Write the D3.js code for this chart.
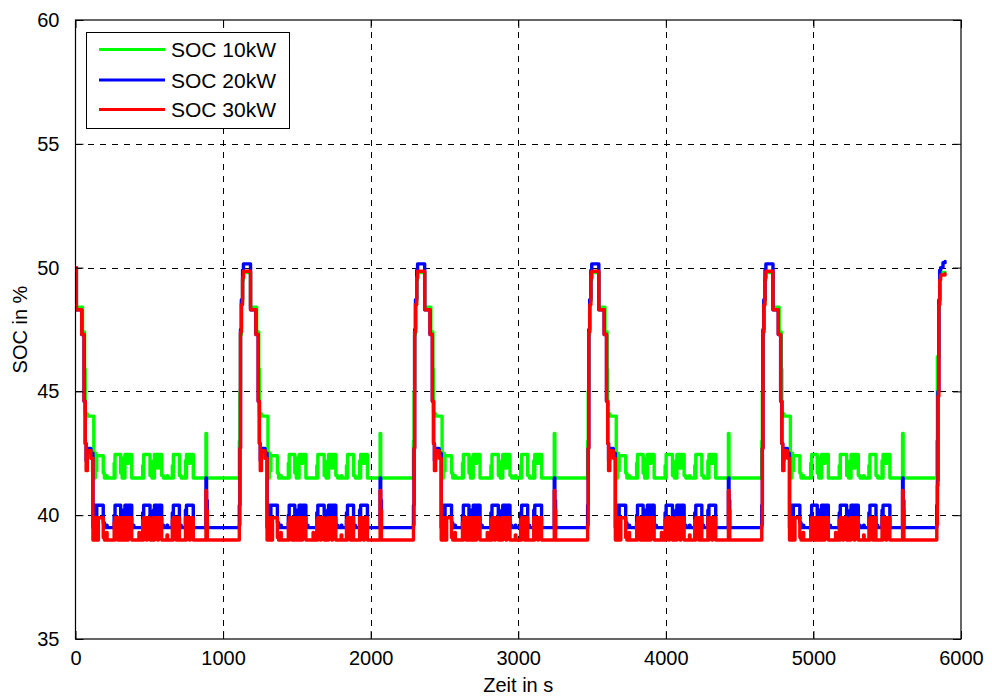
<!DOCTYPE html>
<html>
<head>
<meta charset="utf-8">
<script src="https://cdn.jsdelivr.net/npm/d3@7"></script>
<style>
  html, body { margin: 0; padding: 0; background: #fff; }
  svg { display: block; font-family: "Liberation Sans", Arial, Helvetica, sans-serif; }
</style>
</head>
<body>
<svg id="chart" width="992" height="697"></svg>
<script>
// Simulation time in seconds (breakpoints of the step-wise SOC traces)
const timeS = [
  0,6,42,48,58,62,66,72,80,104,118,124,128,134,139,144,150,155,188,196,210,214,262,265,268,286,290,306,316,322,326,335,352,358,381,395,430,434,455,459,462,480,485,505,518,528,531,535,556,562,584,596,620,624,656,659,663,682,687,704,716,745,748,752,772,777,798,884,888,893,1110,1114,1118,1124,1132,1138,
  1180,1186,1222,1228,1238,1242,1246,1252,1260,1284,1298,1304,1308,1314,1319,1324,1330,1335,1368,1376,1390,1394,1442,1445,1448,1466,1470,1486,1496,1502,1506,1515,1532,1538,1561,1575,1610,1614,1635,1639,1642,1660,1665,1685,1698,1708,1711,1715,1736,1742,1764,1776,1800,1804,1836,1839,1843,1862,1867,1884,1896,1925,1928,1932,1952,1957,1978,2064,2068,2073,2290,2294,2298,2304,2312,2318,
  2360,2366,2402,2408,2418,2422,2426,2432,2440,2464,2478,2484,2488,2494,2499,2504,2510,2515,2548,2556,2570,2574,2622,2625,2628,2646,2650,2666,2676,2682,2686,2695,2712,2718,2741,2755,2790,2794,2815,2819,2822,2840,2845,2865,2878,2888,2891,2895,2916,2922,2944,2956,2980,2984,3016,3019,3023,3042,3047,3064,3076,3105,3108,3112,3132,3137,3158,3244,3248,3253,3470,3474,3478,3484,3492,3498,
  3540,3546,3582,3588,3598,3602,3606,3612,3620,3644,3658,3664,3668,3674,3679,3684,3690,3695,3728,3736,3750,3754,3802,3805,3808,3826,3830,3846,3856,3862,3866,3875,3892,3898,3921,3935,3970,3974,3995,3999,4002,4020,4025,4045,4058,4068,4071,4075,4096,4102,4124,4136,4160,4164,4196,4199,4203,4222,4227,4244,4256,4285,4288,4292,4312,4317,4338,4424,4428,4433,4650,4654,4658,4664,4672,4678,
  4720,4726,4762,4768,4778,4782,4786,4792,4800,4824,4838,4844,4848,4854,4859,4864,4870,4875,4908,4916,4930,4934,4982,4985,4988,5006,5010,5026,5036,5042,5046,5055,5072,5078,5101,5115,5150,5154,5175,5179,5182,5200,5205,5225,5238,5248,5251,5255,5276,5282,5304,5316,5340,5344,5376,5379,5383,5402,5407,5424,5436,5465,5468,5472,5492,5497,5518,5604,5608,5613,5836,5840,5844,5850,5856,5862,5878,5892
];

// State of charge in % at 10 kW
const soc10kW = [
  50.0,48.4,48.4,47.4,47.4,45.9,44.1,44.1,44.0,44.0,44.0,42.4,41.5,42.5,41.8,42.4,42.4,42.4,41.7,41.5,41.6,41.5,42.1,41.5,42.45,42.45,42.45,41.7,41.5,42.3,41.5,42.45,42.1,42.45,41.5,41.5,41.5,41.5,42.0,41.5,42.45,42.45,42.45,41.6,41.5,42.2,41.5,42.45,41.9,42.45,41.6,41.5,41.6,41.5,42.0,41.5,42.45,42.45,42.45,41.6,41.5,42.2,41.5,42.45,42.1,42.45,41.5,43.3,41.5,41.5,43.0,45.0,47.3,48.6,49.5,49.8,
  49.8,48.4,48.4,47.4,47.4,45.9,44.1,44.1,44.0,44.0,44.0,42.4,41.5,42.5,41.8,42.4,42.4,42.4,41.7,41.5,41.6,41.5,42.1,41.5,42.45,42.45,42.45,41.7,41.5,42.3,41.5,42.45,42.1,42.45,41.5,41.5,41.5,41.5,42.0,41.5,42.45,42.45,42.45,41.6,41.5,42.2,41.5,42.45,41.9,42.45,41.6,41.5,41.6,41.5,42.0,41.5,42.45,42.45,42.45,41.6,41.5,42.2,41.5,42.45,42.1,42.45,41.5,43.3,41.5,41.5,43.0,45.0,47.3,48.6,49.5,49.8,
  49.8,48.4,48.4,47.4,47.4,45.9,44.1,44.1,44.0,44.0,44.0,42.4,41.5,42.5,41.8,42.4,42.4,42.4,41.7,41.5,41.6,41.5,42.1,41.5,42.45,42.45,42.45,41.7,41.5,42.3,41.5,42.45,42.1,42.45,41.5,41.5,41.5,41.5,42.0,41.5,42.45,42.45,42.45,41.6,41.5,42.2,41.5,42.45,41.9,42.45,41.6,41.5,41.6,41.5,42.0,41.5,42.45,42.45,42.45,41.6,41.5,42.2,41.5,42.45,42.1,42.45,41.5,43.3,41.5,41.5,43.0,45.0,47.3,48.6,49.5,49.8,
  49.8,48.4,48.4,47.4,47.4,45.9,44.1,44.1,44.0,44.0,44.0,42.4,41.5,42.5,41.8,42.4,42.4,42.4,41.7,41.5,41.6,41.5,42.1,41.5,42.45,42.45,42.45,41.7,41.5,42.3,41.5,42.45,42.1,42.45,41.5,41.5,41.5,41.5,42.0,41.5,42.45,42.45,42.45,41.6,41.5,42.2,41.5,42.45,41.9,42.45,41.6,41.5,41.6,41.5,42.0,41.5,42.45,42.45,42.45,41.6,41.5,42.2,41.5,42.45,42.1,42.45,41.5,43.3,41.5,41.5,43.0,45.0,47.3,48.6,49.5,49.8,
  49.8,48.4,48.4,47.4,47.4,45.9,44.1,44.1,44.0,44.0,44.0,42.4,41.5,42.5,41.8,42.4,42.4,42.4,41.7,41.5,41.6,41.5,42.1,41.5,42.45,42.45,42.45,41.7,41.5,42.3,41.5,42.45,42.1,42.45,41.5,41.5,41.5,41.5,42.0,41.5,42.45,42.45,42.45,41.6,41.5,42.2,41.5,42.45,41.9,42.45,41.6,41.5,41.6,41.5,42.0,41.5,42.45,42.45,42.45,41.6,41.5,42.2,41.5,42.45,42.1,42.45,41.5,43.3,41.5,41.5,43.0,46.4,46.4,48.6,49.6,49.8,49.8,49.8
];

// State of charge in % at 20 kW
const soc20kW = [
  50.0,48.3,47.3,47.3,44.6,44.6,42.9,42.2,42.7,42.5,39.5,39.5,39.5,40.4,39.6,40.4,40.4,40.4,39.7,39.5,39.6,39.5,40.0,39.5,40.4,40.4,40.4,39.65,39.5,40.2,39.5,40.4,40.0,40.4,39.6,39.5,39.5,39.5,40.1,39.5,40.4,40.4,40.4,39.6,39.5,40.2,39.5,40.4,39.8,40.4,39.6,39.5,39.6,39.5,40.1,39.5,40.4,40.4,40.4,39.6,39.5,40.2,39.5,40.4,40.4,40.4,39.5,41.5,40.6,39.5,40.4,42.7,47.5,48.7,49.9,50.15,
  50.15,48.3,47.3,47.3,44.6,44.6,42.9,42.2,42.7,42.5,39.5,39.5,39.5,40.4,39.6,40.4,40.4,40.4,39.7,39.5,39.6,39.5,40.0,39.5,40.4,40.4,40.4,39.65,39.5,40.2,39.5,40.4,40.0,40.4,39.6,39.5,39.5,39.5,40.1,39.5,40.4,40.4,40.4,39.6,39.5,40.2,39.5,40.4,39.8,40.4,39.6,39.5,39.6,39.5,40.1,39.5,40.4,40.4,40.4,39.6,39.5,40.2,39.5,40.4,40.4,40.4,39.5,41.5,40.6,39.5,40.4,42.7,47.5,48.7,49.9,50.15,
  50.15,48.3,47.3,47.3,44.6,44.6,42.9,42.2,42.7,42.5,39.5,39.5,39.5,40.4,39.6,40.4,40.4,40.4,39.7,39.5,39.6,39.5,40.0,39.5,40.4,40.4,40.4,39.65,39.5,40.2,39.5,40.4,40.0,40.4,39.6,39.5,39.5,39.5,40.1,39.5,40.4,40.4,40.4,39.6,39.5,40.2,39.5,40.4,39.8,40.4,39.6,39.5,39.6,39.5,40.1,39.5,40.4,40.4,40.4,39.6,39.5,40.2,39.5,40.4,40.4,40.4,39.5,41.5,40.6,39.5,40.4,42.7,47.5,48.7,49.9,50.15,
  50.15,48.3,47.3,47.3,44.6,44.6,42.9,42.2,42.7,42.5,39.5,39.5,39.5,40.4,39.6,40.4,40.4,40.4,39.7,39.5,39.6,39.5,40.0,39.5,40.4,40.4,40.4,39.65,39.5,40.2,39.5,40.4,40.0,40.4,39.6,39.5,39.5,39.5,40.1,39.5,40.4,40.4,40.4,39.6,39.5,40.2,39.5,40.4,39.8,40.4,39.6,39.5,39.6,39.5,40.1,39.5,40.4,40.4,40.4,39.6,39.5,40.2,39.5,40.4,40.4,40.4,39.5,41.5,40.6,39.5,40.4,42.7,47.5,48.7,49.9,50.15,
  50.15,48.3,47.3,47.3,44.6,44.6,42.9,42.2,42.7,42.5,39.5,39.5,39.5,40.4,39.6,40.4,40.4,40.4,39.7,39.5,39.6,39.5,40.0,39.5,40.4,40.4,40.4,39.65,39.5,40.2,39.5,40.4,40.0,40.4,39.6,39.5,39.5,39.5,40.1,39.5,40.4,40.4,40.4,39.6,39.5,40.2,39.5,40.4,39.8,40.4,39.6,39.5,39.6,39.5,40.1,39.5,40.4,40.4,40.4,39.6,39.5,40.2,39.5,40.4,40.4,40.4,39.5,41.5,40.6,39.5,40.4,41.4,45.0,48.7,49.9,50.0,50.2,50.25
];

// State of charge in % at 30 kW
const soc30kW = [
  50.0,48.3,47.3,47.3,44.6,44.6,42.9,41.8,42.6,42.3,39.0,39.0,39.0,39.9,39.0,39.9,39.0,39.9,39.1,39.0,39.3,39.0,39.7,39.0,39.9,39.0,39.9,39.0,39.0,39.9,39.0,39.9,39.0,39.9,39.0,39.0,39.3,39.0,39.8,39.0,39.9,39.0,39.9,39.0,39.0,39.9,39.0,39.9,39.0,39.9,39.0,39.0,39.2,39.0,39.8,39.0,39.9,39.0,39.9,39.0,39.0,39.9,39.0,39.9,39.0,39.9,39.0,41.0,40.2,39.0,39.6,42.7,47.4,48.5,49.6,49.85,
  49.85,48.3,47.3,47.3,44.6,44.6,42.9,41.8,42.6,42.3,39.0,39.0,39.0,39.9,39.0,39.9,39.0,39.9,39.1,39.0,39.3,39.0,39.7,39.0,39.9,39.0,39.9,39.0,39.0,39.9,39.0,39.9,39.0,39.9,39.0,39.0,39.3,39.0,39.8,39.0,39.9,39.0,39.9,39.0,39.0,39.9,39.0,39.9,39.0,39.9,39.0,39.0,39.2,39.0,39.8,39.0,39.9,39.0,39.9,39.0,39.0,39.9,39.0,39.9,39.0,39.9,39.0,41.0,40.2,39.0,39.6,42.7,47.4,48.5,49.6,49.85,
  49.85,48.3,47.3,47.3,44.6,44.6,42.9,41.8,42.6,42.3,39.0,39.0,39.0,39.9,39.0,39.9,39.0,39.9,39.1,39.0,39.3,39.0,39.7,39.0,39.9,39.0,39.9,39.0,39.0,39.9,39.0,39.9,39.0,39.9,39.0,39.0,39.3,39.0,39.8,39.0,39.9,39.0,39.9,39.0,39.0,39.9,39.0,39.9,39.0,39.9,39.0,39.0,39.2,39.0,39.8,39.0,39.9,39.0,39.9,39.0,39.0,39.9,39.0,39.9,39.0,39.9,39.0,41.0,40.2,39.0,39.6,42.7,47.4,48.5,49.6,49.85,
  49.85,48.3,47.3,47.3,44.6,44.6,42.9,41.8,42.6,42.3,39.0,39.0,39.0,39.9,39.0,39.9,39.0,39.9,39.1,39.0,39.3,39.0,39.7,39.0,39.9,39.0,39.9,39.0,39.0,39.9,39.0,39.9,39.0,39.9,39.0,39.0,39.3,39.0,39.8,39.0,39.9,39.0,39.9,39.0,39.0,39.9,39.0,39.9,39.0,39.9,39.0,39.0,39.2,39.0,39.8,39.0,39.9,39.0,39.9,39.0,39.0,39.9,39.0,39.9,39.0,39.9,39.0,41.0,40.2,39.0,39.6,42.7,47.4,48.5,49.6,49.85,
  49.85,48.3,47.3,47.3,44.6,44.6,42.9,41.8,42.6,42.3,39.0,39.0,39.0,39.9,39.0,39.9,39.0,39.9,39.1,39.0,39.3,39.0,39.7,39.0,39.9,39.0,39.9,39.0,39.0,39.9,39.0,39.9,39.0,39.9,39.0,39.0,39.3,39.0,39.8,39.0,39.9,39.0,39.9,39.0,39.0,39.9,39.0,39.9,39.0,39.9,39.0,39.0,39.2,39.0,39.8,39.0,39.9,39.0,39.9,39.0,39.0,39.9,39.0,39.9,39.0,39.9,39.0,41.0,40.2,39.0,39.6,41.2,44.8,48.5,49.5,49.7,49.7,49.75
];

const seriesNames = ["SOC 10kW", "SOC 20kW", "SOC 30kW"];
const seriesColors = ["#00ff00", "#0000ff", "#ff0000"];
const xTicks = [0, 1000, 2000, 3000, 4000, 5000, 6000];
const yTicks = [35, 40, 45, 50, 55, 60];
const xLabel = "Zeit in s";
const yLabel = "SOC in %";

const svg = d3.select("#chart");
const plot = { left: 75.5, top: 20, right: 961, bottom: 639 };

const x = d3.scaleLinear().domain([0, 6000]).range([plot.left, plot.right]);
const y = d3.scaleLinear().domain([35, 60]).range([plot.bottom, plot.top]);

// white plot background
svg.append("rect")
  .attr("x", plot.left).attr("y", plot.top)
  .attr("width", plot.right - plot.left).attr("height", plot.bottom - plot.top)
  .attr("fill", "#fff");

// dashed grid
const grid = svg.append("g").attr("stroke", "#000").attr("stroke-width", 1)
  .attr("stroke-dasharray", "6,6").attr("shape-rendering", "crispEdges");
grid.selectAll(".gx").data(xTicks.slice(1, -1)).join("line")
  .attr("x1", d => Math.round(x(d)) + 0.5).attr("x2", d => Math.round(x(d)) + 0.5)
  .attr("y1", plot.top).attr("y2", plot.bottom);
grid.selectAll(".gy").data(yTicks.slice(1, -1)).join("line")
  .attr("y1", d => Math.round(y(d)) + 0.5).attr("y2", d => Math.round(y(d)) + 0.5)
  .attr("x1", plot.left).attr("x2", plot.right);

// SOC traces
svg.append("defs").append("clipPath").attr("id", "clip")
  .append("rect").attr("x", plot.left).attr("y", plot.top)
  .attr("width", plot.right - plot.left).attr("height", plot.bottom - plot.top);

const seriesValues = [soc10kW, soc20kW, soc30kW];
const line = d3.line()
  .x(d => x(d[0]))
  .y(d => y(d[1]))
  .curve(d3.curveStepAfter);

const traces = svg.append("g").attr("clip-path", "url(#clip)");
seriesValues.forEach((vals, i) => {
  const pts = timeS.map((t, k) => [t, vals[k]]);
  traces.append("path")
    .attr("d", line(pts))
    .attr("fill", "none")
    .attr("stroke", seriesColors[i])
    .attr("stroke-width", 3.4)
    .attr("stroke-linejoin", "round")
    .attr("stroke-linecap", "round");
});

// axes with inward ticks on all four sides
const tickLen = 8;
const fmt = d3.format("d");
const xAxisB = d3.axisBottom(x).tickValues(xTicks).tickFormat(fmt).tickSizeInner(-tickLen).tickSizeOuter(0).tickPadding(tickLen + 4);
const xAxisT = d3.axisTop(x).tickValues(xTicks).tickSizeInner(-tickLen).tickSizeOuter(0).tickFormat("");
const yAxisL = d3.axisLeft(y).tickValues(yTicks).tickFormat(fmt).tickSizeInner(-tickLen).tickSizeOuter(0).tickPadding(tickLen + 8);
const yAxisR = d3.axisRight(y).tickValues(yTicks).tickSizeInner(-tickLen).tickSizeOuter(0).tickFormat("");

function styleAxis(g) {
  g.select(".domain").remove();
  g.selectAll("line").attr("stroke", "#000").attr("stroke-width", 1);
  g.selectAll("text").attr("fill", "#000").style("font-size", "20px")
    .style("font-family", "'Liberation Sans', Arial, Helvetica, sans-serif");
}
svg.append("g").attr("transform", `translate(0,${plot.bottom})`).call(xAxisB).call(styleAxis);
svg.append("g").attr("transform", `translate(0,${plot.top})`).call(xAxisT).call(styleAxis);
svg.append("g").attr("transform", `translate(${plot.left},0)`).call(yAxisL).call(styleAxis);
svg.append("g").attr("transform", `translate(${plot.right},0)`).call(yAxisR).call(styleAxis);

// axes box
svg.append("rect")
  .attr("x", plot.left).attr("y", plot.top)
  .attr("width", plot.right - plot.left).attr("height", plot.bottom - plot.top)
  .attr("fill", "none").attr("stroke", "#000").attr("stroke-width", 1.2);

// axis titles
svg.append("text")
  .attr("x", (plot.left + plot.right) / 2).attr("y", 692)
  .attr("text-anchor", "middle").style("font-size", "20px").text(xLabel);
svg.append("text")
  .attr("transform", `translate(27,${(plot.top + plot.bottom) / 2}) rotate(-90)`)
  .attr("text-anchor", "middle").style("font-size", "20px").text(yLabel);

// legend
const legend = svg.append("g");
legend.append("rect")
  .attr("x", 86.5).attr("y", 32.5).attr("width", 203).attr("height", 96)
  .attr("fill", "#fff").attr("stroke", "#000").attr("stroke-width", 1);
const rowY = [49.5, 80, 109.5];
seriesNames.forEach((name, i) => {
  legend.append("line")
    .attr("x1", 99).attr("x2", 165).attr("y1", rowY[i]).attr("y2", rowY[i])
    .attr("stroke", seriesColors[i]).attr("stroke-width", 3);
  legend.append("text")
    .attr("x", 171).attr("y", rowY[i] + 7.5)
    .style("font-size", "21px").text(name);
});
</script>
</body>
</html>
